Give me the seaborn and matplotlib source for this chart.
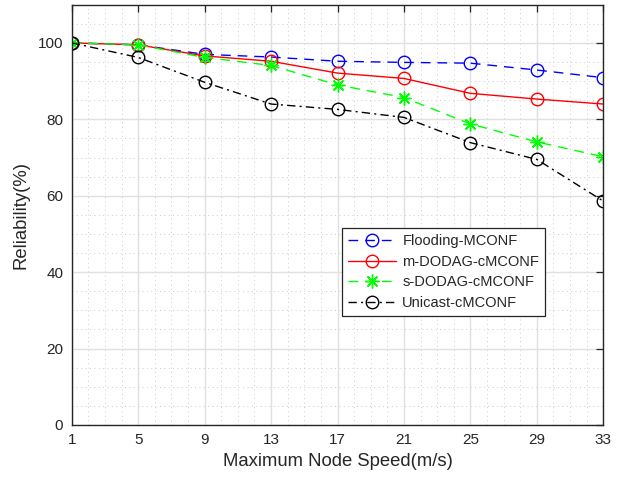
import pandas as pd
import matplotlib
matplotlib.use('Agg')
import matplotlib.pyplot as plt
import seaborn as sns
from matplotlib.ticker import MultipleLocator

speed = [1, 5, 9, 13, 17, 21, 25, 29, 33]
flooding = [100, 99.5, 97.0, 96.3, 95.2, 94.9, 94.7, 92.9, 90.9]
m_dodag = [100, 99.5, 96.6, 95.2, 92.1, 90.7, 86.8, 85.3, 84.0]
s_dodag = [100, 99.5, 96.2, 94.1, 89.0, 85.7, 78.8, 74.1, 70.2]
unicast = [100, 96.2, 89.7, 84.0, 82.6, 80.5, 73.9, 69.5, 58.6]
names = ['Flooding-MCONF', 'm-DODAG-cMCONF', 's-DODAG-cMCONF', 'Unicast-cMCONF']

sns.set_style('whitegrid')
plt.rcParams['font.family'] = ['Liberation Sans', 'DejaVu Sans']

df = pd.DataFrame({'speed': speed, names[0]: flooding, names[1]: m_dodag,
                   names[2]: s_dodag, names[3]: unicast})

# matlab-ish line specs: 'b--o', 'r-o', 'g--*', 'k-.o'
styles = [
    dict(color='#0000ff', dashes=(7, 5), marker='o', ms=9),
    dict(color='#ff0000', dashes=None, marker='o', ms=9),
    dict(color='#00ff00', dashes=(7, 5), marker=(8, 2, 0), ms=10),
    dict(color='#000000', dashes=(6, 3, 1.5, 3), marker='o', ms=9),
]

fig = plt.figure(figsize=(6.23, 4.78), dpi=100)
ax = fig.add_axes([71.7 / 623, (478 - 425) / 478, 531.6 / 623, 420.3 / 478])

for name, st in zip(names, styles):
    sns.lineplot(data=df, x='speed', y=name, ax=ax, color=st['color'], marker=st['marker'],
                 markersize=st['ms'], markerfacecolor='none', markeredgecolor=st['color'],
                 markeredgewidth=1.0, linewidth=1.0, label=name)
    ln = ax.lines[-1]
    if st['dashes'] is not None:
        ln.set_dashes(st['dashes'])
    else:
        ln.set_linestyle('-')

ax.set_xlim(1, 33)
ax.set_ylim(0, 110)
ax.set_xticks(speed)
ax.set_yticks([0, 20, 40, 60, 80, 100])
ax.xaxis.set_minor_locator(MultipleLocator(1))
ax.yaxis.set_minor_locator(MultipleLocator(5))
ax.grid(True, which='major', color='#e0e0e0', linestyle='-', linewidth=1.0)
ax.grid(True, which='minor', color='#cccccc', linestyle=(0, (1, 3.5)), linewidth=0.7)
ax.set_axisbelow(True)
ax.tick_params(which='major', direction='in', length=5, width=0.9, colors='#262626',
               top=True, right=True, labelsize=11, pad=6)
ax.tick_params(which='minor', length=0)
for side in ax.spines.values():
    side.set_visible(True)
    side.set_color('#262626')
    side.set_linewidth(1.0)

ax.set_xlabel('Maximum Node Speed(m/s)', fontsize=13.3, color='#262626', labelpad=4)
ax.set_ylabel('Reliability(%)', fontsize=13.3, color='#262626', labelpad=6)

leg = ax.legend(loc='upper left', bbox_to_anchor=(0.508, 0.468), borderaxespad=0,
                fontsize=10.5, frameon=True, fancybox=False, edgecolor='#262626',
                handlelength=3.3, labelspacing=0.45, borderpad=0.4, handletextpad=0.45)
leg.get_frame().set_linewidth(0.9)
leg.get_frame().set_alpha(1)

fig.savefig('out.png', dpi=100)
